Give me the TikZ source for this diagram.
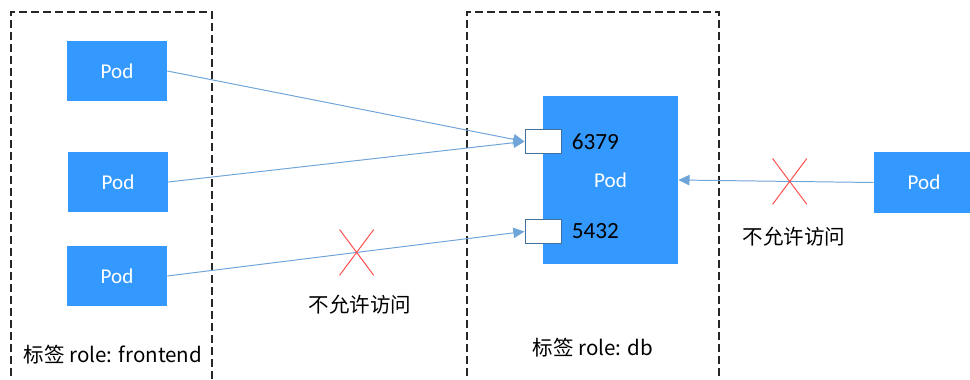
\documentclass[tikz,border=0pt]{standalone}
\usepackage{fontspec}
\setmainfont{Carlito}
\newfontfamily\cjk{Noto Sans CJK SC}
\usetikzlibrary{positioning,arrows.meta,shapes.misc}
\definecolor{podblue}{HTML}{3399FF}
\definecolor{linkblue}{HTML}{6FA5D8}
\definecolor{portedge}{HTML}{41719C}
\definecolor{denyred}{HTML}{FF4D4D}

\begin{document}
\begin{tikzpicture}[x=0.025cm, y=-0.025cm, >={Triangle[length=2.8mm,width=2.6mm]},
  font=\fontsize{15}{17}\selectfont,
  group/.style={draw=black!85, line width=0.85pt, dash pattern=on 2mm off 1mm},
  pod/.style={fill=podblue, text=white, inner sep=0, minimum width=2.5cm, minimum height=1.5cm},
  port/.style={draw=portedge, line width=0.7pt, fill=white, inner sep=0, minimum width=0.9cm, minimum height=0.62cm},
  link/.style={->, draw=linkblue, line width=0.7pt},
  deny/.style={cross out, draw=denyred, line width=0.7pt, inner sep=0, minimum width=0.83cm, minimum height=1.12cm},
  tag/.style={font=\cjk\fontsize{14.6}{17}\selectfont}]
  \useasboundingbox (0,0) rectangle (970,380);
  % label groups
  \draw[group] (11,400) -- (11,12) -- (212,12) -- (212,400);
  \draw[group] (467,400) -- (467,12) -- (719,12) -- (719,400);
  % frontend pods
  \node[pod] (fe1) at (117,71) {Pod};
  \node[pod] (fe2) at (118,182) {Pod};
  \node[pod] (fe3) at (117,276) {Pod};
  % db pod with its ports
  \node[pod, minimum width=3.375cm, minimum height=4.2cm] (db) at (610.5,180) {Pod};
  \node[port] (p6379) at (543,141.5) {};
  \node[port] (p5432) at (543,231.5) {};
  \node[right=2.5mm of p6379, inner sep=0, font=\fontsize{16.5}{18}\selectfont] (n6379) {6379};
  \node[right=2.5mm of p5432, inner sep=0, font=\fontsize{16.5}{18}\selectfont] (n5432) {5432};
  % pod outside both groups
  \node[pod] (other) at (924,182.5) {Pod};
  % connections
  \draw[link] (fe1.east) -- (p6379.west);
  \draw[link] (fe2.east) -- (p6379.west);
  \draw[link] (fe3.east) -- node[deny, pos=0.53] (x1) {} (p5432.west);
  \draw[link] (other.west) -- node[deny, pos=0.43] (x2) {} (db.east);
  \node[tag] (deny1) at (360,305) {不允许访问};
  \node[tag] (deny2) at (794,237) {不允许访问};
  \node[tag] (lblfe) at (113,355) {标签 role: frontend};
  \node[tag] (lbldb) at (593,348) {标签 role: db};
\end{tikzpicture}
\end{document}
